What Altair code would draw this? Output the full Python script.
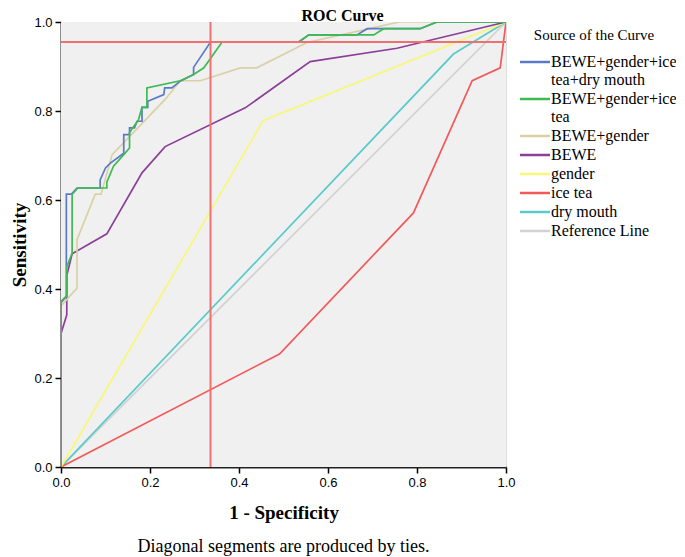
import altair as alt
import pandas as pd

# ---------------- data ----------------
SERIES = ["BEWE+gender+ice tea+dry mouth", "BEWE+gender+ice tea", "BEWE+gender",
          "BEWE", "gender", " ice tea", "dry mouth", "Reference Line"]
COLORS = ["#5b79c9", "#3fba50", "#d9d1a5", "#8b3f98", "#f7f778", "#f25a5a",
          "#5ccaca", "#d2d2d2"]

BLUE_X = [0, 0, 0.012, 0.012, 0.023, 0.036, 0.088, 0.088, 0.100, 0.111, 0.141, 0.141,
          0.154, 0.154, 0.165, 0.171, 0.182, 0.182, 0.195, 0.195, 0.231, 0.233, 0.249,
          0.268, 0.298, 0.298, 0.336, 0.534, 0.557, 0.665, 0.688, 0.807, 0.845, 1.0]
BLUE_Y = [0, 0.370, 0.383, 0.613, 0.613, 0.627, 0.627, 0.645, 0.672, 0.683, 0.705, 0.747,
          0.747, 0.762, 0.762, 0.777, 0.777, 0.808, 0.808, 0.822, 0.837, 0.852, 0.852,
          0.867, 0.882, 0.898, 0.955, 0.955, 0.971, 0.971, 0.985, 0.985, 1.0, 1.0]

GREEN_X = [0, 0, 0.013, 0.013, 0.025, 0.025, 0.038, 0.103, 0.103, 0.118, 0.141, 0.154,
           0.154, 0.161, 0.174, 0.182, 0.193, 0.193, 0.268, 0.298, 0.321, 0.362, 0.534,
           0.557, 0.703, 0.725, 0.807, 0.845, 1.0]
GREEN_Y = [0, 0.372, 0.385, 0.450, 0.480, 0.613, 0.627, 0.627, 0.640, 0.676, 0.702, 0.717,
           0.751, 0.762, 0.780, 0.808, 0.808, 0.852, 0.868, 0.882, 0.897, 0.955, 0.955,
           0.971, 0.971, 0.985, 0.985, 1.0, 1.0]

KHAKI_X = [0, 0, 0.036, 0.036, 0.077, 0.090, 0.115, 0.234, 0.268, 0.313, 0.403, 0.440,
           0.553, 0.630, 0.760, 1.0]
KHAKI_Y = [0, 0.362, 0.402, 0.511, 0.613, 0.613, 0.702, 0.826, 0.868, 0.868, 0.897, 0.897,
           0.954, 0.971, 1.0, 1.0]

PURPLE_X = [0, 0, 0.013, 0.013, 0.025, 0.103, 0.182, 0.234, 0.414, 0.560, 0.755, 1.0]
PURPLE_Y = [0, 0.300, 0.342, 0.430, 0.479, 0.524, 0.661, 0.720, 0.807, 0.911, 0.941, 1.0]

YELLOW_X = [0, 0.454, 1.0]
YELLOW_Y = [0, 0.778, 1.0]

RED_X = [0, 0.491, 0.792, 0.924, 0.987, 1.0]
RED_Y = [0, 0.254, 0.571, 0.868, 0.897, 1.0]

CYAN_X = [0, 0.882, 1.0]
CYAN_Y = [0, 0.928, 1.0]

REF_X = [0, 1.0]
REF_Y = [0, 1.0]

CUT_X = [0.336]
CUT_Y = [0.955]

TICKS = [0.0, 0.2, 0.4, 0.6, 0.8, 1.0]
TITLE = "ROC Curve"
X_TITLE = "1 - Specificity"
Y_TITLE = "Sensitivity"
LEGEND_TITLE = "Source of the Curve"
FOOTNOTE = ["Diagonal segments are produced by ties."]

CURVES = {
    "BEWE+gender+ice tea+dry mouth": (BLUE_X, BLUE_Y),
    "BEWE+gender+ice tea": (GREEN_X, GREEN_Y),
    "BEWE+gender": (KHAKI_X, KHAKI_Y),
    "BEWE": (PURPLE_X, PURPLE_Y),
    "gender": (YELLOW_X, YELLOW_Y),
    " ice tea": (RED_X, RED_Y),
    "dry mouth": (CYAN_X, CYAN_Y),
    "Reference Line": (REF_X, REF_Y),
}
DRAW_ORDER = ["Reference Line", "dry mouth", " ice tea", "gender", "BEWE",
              "BEWE+gender", "BEWE+gender+ice tea+dry mouth", "BEWE+gender+ice tea"]

rows = []
for name in DRAW_ORDER:
    xs, ys = CURVES[name]
    for i, (x, y) in enumerate(zip(xs, ys)):
        rows.append({"series": name, "fpr": x, "tpr": y, "idx": i})
df = pd.DataFrame(rows)

W, H = 445, 445
xscale = alt.Scale(domain=[0, 1], nice=False, zero=False)
yscale = alt.Scale(domain=[0, 1], nice=False, zero=False)

axis_common = dict(
    values=TICKS, format=".1f", grid=False,
    labelFont="Liberation Sans", labelFontSize=13, labelColor="#000",
    labelFlush=False, labelOverlap=False, labelPadding=3,
    tickSize=6, tickColor="#000", tickWidth=1.5,
    domainColor="#222", domainWidth=2,
    titleFont="Liberation Serif", titleFontSize=19, titleFontWeight="bold",
    titleColor="#000",
)

label_expr = (
    "datum.label == 'BEWE+gender+ice tea+dry mouth' ? ['BEWE+gender+ice', 'tea+dry mouth'] : "
    "datum.label == 'BEWE+gender+ice tea' ? ['BEWE+gender+ice', 'tea'] : "
    "datum.label == ' ice tea' ? '\u00a0ice tea' : datum.label"
)

panel = alt.Chart(pd.DataFrame({"p": [0]})).mark_rect(color="#f0f0f0").encode(
    x=alt.value(0), x2=alt.value(W), y=alt.value(0), y2=alt.value(H))

lines = alt.Chart(df).mark_line(strokeWidth=1.7, clip=True).encode(
    x=alt.X("fpr:Q", scale=xscale, title=X_TITLE,
            axis=alt.Axis(titlePadding=14, **axis_common)),
    y=alt.Y("tpr:Q", scale=yscale, title=Y_TITLE,
            axis=alt.Axis(titlePadding=4, **axis_common)),
    color=alt.Color(
        "series:N",
        scale=alt.Scale(domain=SERIES, range=COLORS),
        legend=alt.Legend(
            title=LEGEND_TITLE, orient="none", legendX=451, legendY=6,
            symbolType="M-5,0H5", symbolSize=36, symbolStrokeWidth=2.5,
            symbolOffset=15, labelOffset=8,
            labelFont="Liberation Serif", labelFontSize=16, labelColor="#000",
            labelLimit=220, labelExpr=label_expr, rowPadding=3,
            titleFont="Liberation Serif", titleFontSize=15, titleFontWeight="normal",
            titleColor="#000", titleAnchor="middle", titlePadding=11,
            padding=0,
        ),
    ),
    order=alt.Order("idx:Q"),
)

vrule = alt.Chart(pd.DataFrame({"cx": CUT_X})).mark_rule(
    color="#f07070", strokeWidth=2).encode(x=alt.X("cx:Q", scale=xscale))
hrule = alt.Chart(pd.DataFrame({"cy": CUT_Y})).mark_rule(
    color="#f07070", strokeWidth=2).encode(y=alt.Y("cy:Q", scale=yscale))

foot = alt.Chart(pd.DataFrame({"t": FOOTNOTE})).mark_text(
    font="Liberation Serif", fontSize=18, align="center", baseline="middle",
    color="#000").encode(x=alt.value(W / 2), y=alt.value(525), text="t:N")

chart = alt.layer(panel, lines, vrule, hrule, foot).properties(
    width=W, height=H,
    title=alt.Title(TITLE, font="Liberation Serif", fontSize=16, fontWeight="bold",
                    color="#000", anchor="middle", frame="group", dx=59, offset=-8),
    padding={"left": 53, "top": 14, "right": 170, "bottom": 90},
    autosize=alt.AutoSizeParams(type="none"),
).configure_view(
    fill="#f0f0f0", stroke="#555", strokeWidth=1.5
).configure(background="white")

chart.save("out.html", embed_options={"renderer": "svg", "actions": False})
